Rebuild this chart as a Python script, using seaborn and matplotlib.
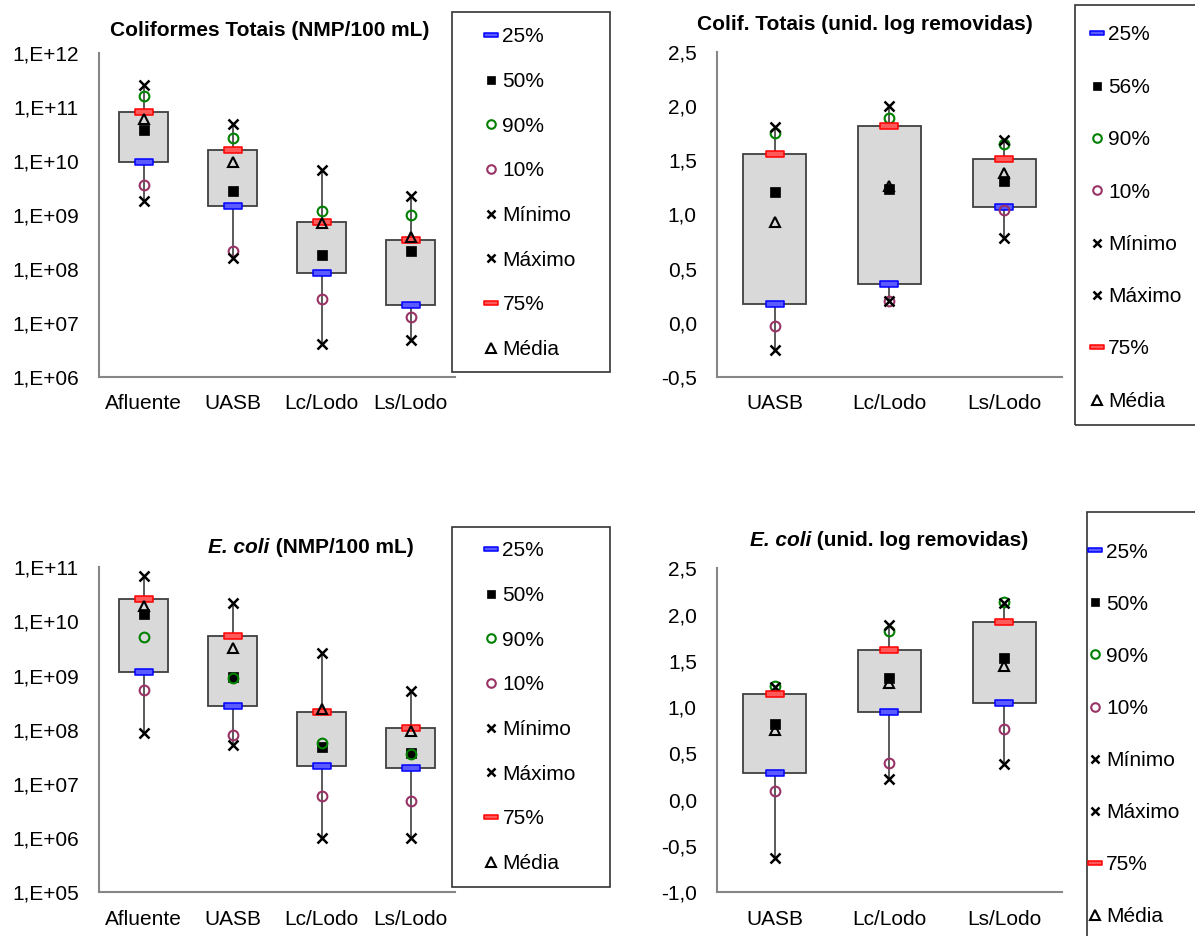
import numpy as np
import matplotlib
matplotlib.use("Agg")
import matplotlib.pyplot as plt
from matplotlib.lines import Line2D
from matplotlib.patches import Rectangle
from matplotlib.path import Path
from matplotlib.ticker import FuncFormatter, NullLocator
import seaborn as sns

# categorias
est_bruto = ["Afluente", "UASB", "Lc/Lodo", "Ls/Lodo"]
est_rem = ["UASB", "Lc/Lodo", "Ls/Lodo"]

# Coliformes totais (NMP/100 mL)
ct_min = [1.8e9, 1.55e8, 4.1e6, 4.8e6]
ct_p10 = [3.6e9, 2.1e8, 2.8e7, 1.3e7]
ct_p25 = [9.4e9, 1.47e9, 8.4e7, 2.1e7]
ct_p50 = [3.7e10, 2.7e9, 1.77e8, 2.1e8]
ct_media = [6.0e10, 9.4e9, 6.9e8, 3.8e8]
ct_p75 = [8.0e10, 1.58e10, 7.4e8, 3.4e8]
ct_p90 = [1.55e11, 2.6e10, 1.17e9, 1.0e9]
ct_max = [2.5e11, 4.8e10, 6.7e9, 2.2e9]

# Coliformes totais (unid. log removidas)
ctr_min = [-0.25, 0.20, 0.78]
ctr_p10 = [-0.03, 0.20, 1.04]
ctr_p25 = [0.17, 0.36, 1.065]
ctr_p50 = [1.21, 1.24, 1.31]
ctr_media = [0.93, 1.265, 1.38]
ctr_p75 = [1.56, 1.82, 1.515]
ctr_p90 = [1.75, 1.89, 1.65]
ctr_max = [1.81, 2.00, 1.685]

# E. coli (NMP/100 mL)
ec_min = [8.6e7, 5.2e7, 1.02e6, 1.02e6]
ec_p10 = [5.4e8, 8.0e7, 6.1e6, 4.85e6]
ec_p25 = [1.19e9, 2.7e8, 2.18e7, 2.0e7]
ec_p50 = [1.36e10, 9.6e8, 4.9e7, 3.7e7]
ec_media = [1.9e10, 3.3e9, 2.4e8, 9.5e7]
ec_p75 = [2.57e10, 5.4e9, 2.16e8, 1.1e8]
ec_p90 = [5.25e9, 9.1e8, 5.6e7, 3.5e7]
ec_max = [6.9e10, 2.16e10, 2.6e9, 5.1e8]

# E. coli (unid. log removidas)
ecr_min = [-0.63, 0.22, 0.39]
ecr_p10 = [0.09, 0.40, 0.76]
ecr_p25 = [0.29, 0.95, 1.04]
ecr_p50 = [0.82, 1.31, 1.53]
ecr_media = [0.755, 1.26, 1.44]
ecr_p75 = [1.14, 1.62, 1.92]
ecr_p90 = [1.23, 1.82, 2.14]
ecr_max = [1.22, 1.89, 2.13]

legenda = ["25%", "50%", "90%", "10%", "Mínimo", "Máximo", "75%", "Média"]
legenda_ct_rem = ["25%", "56%", "90%", "10%", "Mínimo", "Máximo", "75%", "Média"]

sns.set_theme(style="white")
plt.rcParams["font.family"] = ["Liberation Sans", "DejaVu Sans"]
plt.rcParams["font.size"] = 15
plt.rcParams["text.color"] = "black"

W, H = 1195, 936
fig = plt.figure(figsize=(W / 100, H / 100), dpi=100)

dash = Path([(-1, -0.3), (1, -0.3), (1, 0.3), (-1, 0.3), (-1, -0.3)],
            [Path.MOVETO, Path.LINETO, Path.LINETO, Path.LINETO, Path.CLOSEPOLY])

# estilo de cada serie (mesma ordem da legenda)
estilos = [
    dict(marker=dash, color="#0000ff", markerfacecolor="#5a5aff", markersize=13, markeredgewidth=1.1),
    dict(marker="s", color="black", markerfacecolor="black", markersize=7.2, markeredgewidth=0.5),
    dict(marker="o", color="#008000", markerfacecolor="none", markersize=7, markeredgewidth=1.5),
    dict(marker="o", color="#993366", markerfacecolor="none", markersize=7, markeredgewidth=1.5),
    dict(marker="x", color="black", markerfacecolor="black", markersize=6.5, markeredgewidth=1.8),
    dict(marker="x", color="black", markerfacecolor="black", markersize=6.5, markeredgewidth=1.8),
    dict(marker=dash, color="#ff0000", markerfacecolor="#ff5a5a", markersize=13, markeredgewidth=1.1),
    dict(marker="^", color="black", markerfacecolor="none", markersize=7.5, markeredgewidth=1.5),
]

cinza = "#868686"


def fx(px):
    return px / W


def fy(py):
    return 1 - py / H


def painel(rect, cats, series, log, ylim, yticks, labels, leg_box, leg_top, leg_x, leg_space):
    x0, x1, y0, y1 = rect
    ax = fig.add_axes([fx(x0), fy(y1), fx(x1 - x0), (y1 - y0) / H])
    if log:
        ax.set_yscale("log")
    p25, p50, p90, p10, vmin, vmax, p75, media = series
    pos = np.arange(len(cats))
    ax.vlines(pos, vmin, vmax, color="#5a5a5a", lw=1.4, zorder=1)
    ax.bar(pos, np.array(p75) - np.array(p25), bottom=p25, width=0.556,
           color="#d9d9d9", edgecolor="#404040", linewidth=1.3, zorder=2)
    for i, vals in enumerate(series):
        est = estilos[i]
        sns.pointplot(x=cats, y=vals, order=cats, linestyle="none", errorbar=None,
                      ax=ax, zorder=3 + i, **est)
    ax.set_xlim(-0.5, len(cats) - 0.5)
    ax.set_ylim(*ylim)
    ax.set_xticks(pos, cats)
    ax.set_xticks(np.arange(len(cats) + 1) - 0.5, minor=True)
    ax.tick_params(axis="x", which="major", length=0, pad=12.5, labelsize=15, labelcolor="black")
    ax.tick_params(axis="x", which="minor", length=6, width=1.5, color=cinza, direction="out")
    ax.set_yticks(yticks)
    ax.yaxis.set_minor_locator(NullLocator())
    if log:
        ax.yaxis.set_major_formatter(FuncFormatter(lambda v, p: "1,E+%02d" % int(round(np.log10(v)))))
    else:
        ax.yaxis.set_major_formatter(FuncFormatter(lambda v, p: ("%.1f" % v).replace(".", ",")))
    ax.tick_params(axis="y", length=6, width=1.5, color=cinza, direction="out", pad=8.5,
                   labelsize=15, labelcolor="black")
    for s in ["top", "right"]:
        ax.spines[s].set_visible(False)
    for s in ["left", "bottom"]:
        ax.spines[s].set_color(cinza)
        ax.spines[s].set_linewidth(1.5)
    ax.set_xlabel("")
    ax.set_ylabel("")
    if ax.get_legend():
        ax.get_legend().remove()

    # caixa da legenda
    bx0, by0, bx1, by1 = leg_box
    fig.add_artist(Rectangle((fx(bx0), fy(by1)), fx(bx1 - bx0), (by1 - by0) / H,
                             transform=fig.transFigure, fill=False, ec="#333333", lw=1.2))
    handles = []
    for est in estilos:
        e = dict(est)
        if e["marker"] is dash:
            e["markersize"] = 10.5
        elif e["marker"] == "x":
            e["markersize"] = 5.8
        else:
            e["markersize"] = e["markersize"] * 0.88
        handles.append(Line2D([], [], linestyle="none", **e))
    fig.legend(handles, labels, loc="upper left",
               bbox_to_anchor=(fx(leg_x), fy(leg_top)), bbox_transform=fig.transFigure,
               frameon=False, borderpad=0, borderaxespad=0, handlelength=0.8,
               handletextpad=0.15, labelspacing=leg_space, fontsize=15, labelcolor="black")
    return ax


def titulo(cx, base, partes):
    r = fig.canvas.get_renderer()
    textos = [fig.text(0, fy(base), t, fontsize=15, fontweight="bold", fontstyle=st,
                       color="black", va="baseline", ha="left") for t, st in partes]
    larg = [t.get_window_extent(r).width for t in textos]
    x = cx - sum(larg) / 2
    for t, w in zip(textos, larg):
        t.set_x(fx(x))
        x += w


painel((99, 455, 52.7, 376.7), est_bruto,
       [ct_p25, ct_p50, ct_p90, ct_p10, ct_min, ct_max, ct_p75, ct_media],
       True, (1e6, 1e12), [10.0 ** k for k in range(6, 13)], legenda,
       (452, 12, 610, 372), 27.5, 482.7, 1.23)
painel((717, 1062, 52, 377), est_rem,
       [ctr_p25, ctr_p50, ctr_p90, ctr_p10, ctr_min, ctr_max, ctr_p75, ctr_media],
       False, (-0.5, 2.5), np.arange(-0.5, 2.51, 0.5), legenda_ct_rem,
       (1075, 5, 1210, 425), 25.5, 1088.5, 1.60)
painel((99, 455, 567.3, 892.3), est_bruto,
       [ec_p25, ec_p50, ec_p90, ec_p10, ec_min, ec_max, ec_p75, ec_media],
       True, (1e5, 1e11), [10.0 ** k for k in range(5, 12)], legenda,
       (452, 527, 610, 887), 541.5, 482.7, 1.23)
painel((717, 1062, 568.3, 892.3), est_rem,
       [ecr_p25, ecr_p50, ecr_p90, ecr_p10, ecr_min, ecr_max, ecr_p75, ecr_media],
       False, (-1.0, 2.5), np.arange(-1.0, 2.51, 0.5), legenda,
       (1087, 512, 1210, 950), 542.5, 1086.5, 1.59)

titulo(270, 36.5, [("Coliformes Totais (NMP/100 mL)", "normal")])
titulo(865, 30, [("Colif. Totais (unid. log removidas)", "normal")])
titulo(311, 553, [("E. coli", "italic"), (" (NMP/100 mL)", "normal")])
titulo(889, 546.5, [("E. coli", "italic"), (" (unid. log removidas)", "normal")])

fig.savefig("out.png", dpi=100)
